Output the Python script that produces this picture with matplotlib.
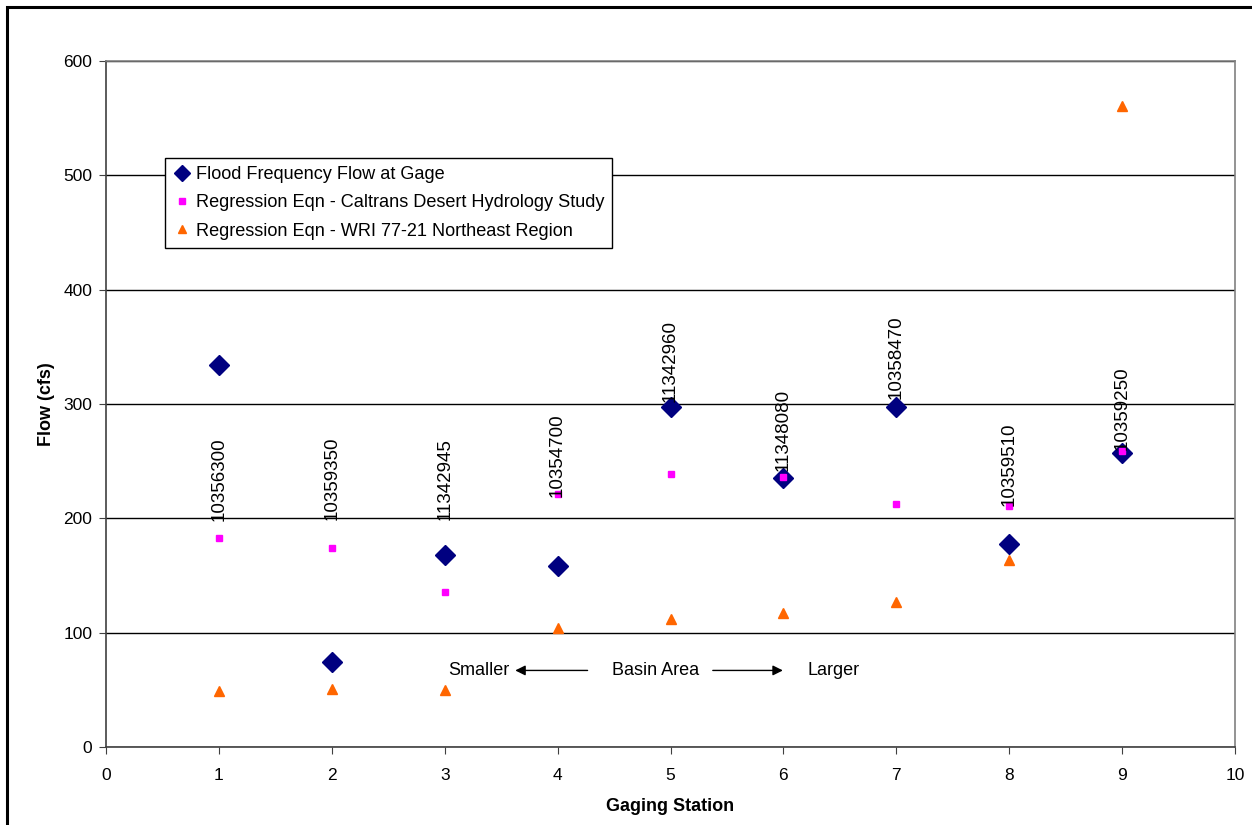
import matplotlib.pyplot as plt
from matplotlib.patches import Rectangle

plt.rcParams['font.family'] = ['Liberation Sans', 'DejaVu Sans']

stations = [1, 2, 3, 4, 5, 6, 7, 8, 9]
gage_flow = [334, 74, 168, 158, 297, 235, 297, 178, 257]
caltrans_flow = [183, 174, 136, 221, 239, 236, 213, 211, 259]
wri_flow = [49, 51, 50, 104, 112, 117, 127, 164, 561]
station_ids = ["10356300", "10359350", "11342945", "10354700", "11342960",
               "11348080", "10358470", "10359510", "10359250"]
label_y = [198, 199, 199, 219, 302, 241, 304, 211, 260]

fig = plt.figure(figsize=(12.52, 8.25), dpi=100)
ax = fig.add_axes([0.0847, 0.0945, 0.9017, 0.8315])

# outer chart frame (cut off at right and bottom in the original)
fig.patches.append(Rectangle((7 / 1252, -0.05), 1.1, 1 - 7 / 825 + 0.05, transform=fig.transFigure,
                             fill=False, edgecolor='black', linewidth=2.2, zorder=0))

ax.plot(stations, gage_flow, linestyle='none', marker='D', markersize=10, color='#000080',
        label='Flood Frequency Flow at Gage', zorder=3)
ax.plot(stations, caltrans_flow, linestyle='none', marker='s', markersize=5, color='#FF00FF',
        label='Regression Eqn - Caltrans Desert Hydrology Study', zorder=4)
ax.plot(stations, wri_flow, linestyle='none', marker='^', markersize=7.5, color='#FF6600',
        label='Regression Eqn - WRI 77-21 Northeast Region', zorder=3)

for x, y, s in zip(stations, label_y, station_ids):
    ax.text(x, y, s, rotation=90, ha='center', va='bottom', fontsize=13.5, zorder=5)

ax.set_xlim(0, 10)
ax.set_ylim(0, 600)
ax.set_xticks(range(0, 11))
ax.set_yticks(range(0, 601, 100))
ax.yaxis.grid(True, color='black', linewidth=1)
ax.set_axisbelow(True)
ax.tick_params(direction='out', length=5, labelsize=12.5, color='#404040')
ax.tick_params(axis='x', pad=10)
ax.tick_params(axis='y', pad=5)
ax.spines['left'].set_color('#404040')
ax.spines['bottom'].set_color('#404040')
ax.spines['top'].set_color('#808080')
ax.spines['right'].set_color('#808080')
for sp in ax.spines.values():
    sp.set_linewidth(1.2)

ax.set_ylabel('Flow (cfs)', fontsize=13, fontweight='bold', labelpad=6)
ax.set_xlabel('Gaging Station', fontsize=13, fontweight='bold', labelpad=11)

# basin area annotation
ax.text(3.30, 67, 'Smaller', ha='center', va='center', fontsize=13)
ax.text(4.87, 67, 'Basin Area', ha='center', va='center', fontsize=13)
ax.text(6.44, 67, 'Larger', ha='center', va='center', fontsize=13)
ax.annotate('', xy=(3.60, 67), xytext=(4.29, 67),
            arrowprops=dict(arrowstyle='-|>', color='black', lw=1, mutation_scale=15))
ax.annotate('', xy=(6.02, 67), xytext=(5.35, 67),
            arrowprops=dict(arrowstyle='-|>', color='black', lw=1, mutation_scale=15))

leg = ax.legend(loc='upper left', bbox_to_anchor=(0.052, 0.859), fontsize=13.1, frameon=True,
                fancybox=False, edgecolor='black', handletextpad=0.25, handlelength=1.0,
                borderpad=0.45, labelspacing=0.62, markerscale=0.8, borderaxespad=0)
leg.get_frame().set_linewidth(1)
leg.get_frame().set_alpha(1)

fig.savefig('out.png', dpi=100)
